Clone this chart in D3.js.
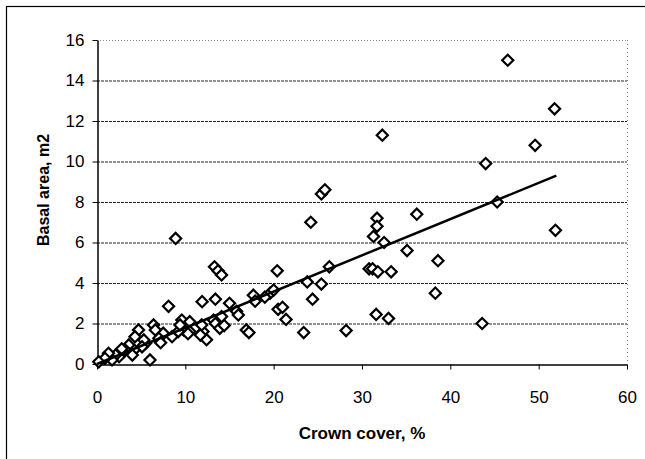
<!DOCTYPE html>
<html>
<head>
<meta charset="utf-8">
<script src="https://cdn.jsdelivr.net/npm/d3@7"></script>
<style>
  html, body { margin: 0; padding: 0; background: #fff; }
  svg { display: block; }
  text { font-family: "Liberation Sans", Arial, sans-serif; fill: #000; }
</style>
</head>
<body>
<svg id="chart" width="645" height="459"></svg>
<script>
// Crown cover (%) vs basal area (m2) for each sample plot
const crownCover = [
  46.5, 51.8, 32.3, 49.6, 44.0, 45.3, 25.4, 25.8, 24.2, 31.7,
  31.7, 31.3, 36.2, 32.5, 51.9, 8.9, 35.1, 38.6, 13.3, 13.7,
  14.1, 20.4, 26.3, 30.8, 31.2, 31.8, 33.3, 23.8, 25.4, 24.4,
  38.3, 43.6, 31.6, 33.0, 28.2, 23.4, 21.4, 20.5, 21.0, 19.6,
  20.0, 19.0, 17.7, 17.9, 16.9, 17.2, 15.8, 15.0, 13.4, 11.9,
  8.1, 16.0, 14.1, 13.2, 13.4, 13.9, 14.4, 12.0, 11.85, 12.4,
  11.7, 9.6, 10.5, 9.8, 10.5, 10.3, 9.2, 9.4, 8.5, 7.5,
  7.0, 7.2, 6.4, 6.6, 6.0, 5.5, 5.3, 5.1, 4.7, 4.3,
  4.2, 4.0, 3.6, 3.2, 3.0, 2.6, 2.5, 2.1, 1.7, 1.3,
  0.9, 0.2, 2.8
];
const basalArea = [
  15.0, 12.6, 11.3, 10.8, 9.9, 8.0, 8.4, 8.6, 7.0, 7.2,
  6.8, 6.3, 7.4, 6.0, 6.6, 6.2, 5.6, 5.1, 4.8, 4.6,
  4.4, 4.6, 4.8, 4.7, 4.7, 4.55, 4.55, 4.05, 3.95, 3.2,
  3.5, 2.0, 2.45, 2.25, 1.65, 1.55, 2.2, 2.7, 2.8, 3.5,
  3.65, 3.3, 3.4, 3.1, 1.68, 1.55, 2.6, 3.0, 3.2, 3.08,
  2.85, 2.42, 2.34, 2.17, 2.0, 1.76, 1.9, 1.6, 1.93, 1.2,
  1.43, 2.17, 2.09, 1.68, 1.6, 1.5, 1.6, 1.93, 1.35, 1.52,
  1.27, 1.05, 1.93, 1.68, 0.2, 1.02, 1.19, 0.85, 1.68, 1.35,
  0.69, 0.44, 0.94, 0.69, 0.6, 0.53, 0.36, 0.44, 0.2, 0.53,
  0.28, 0.11, 0.75
];

// Linear trend line end points
const trendX = [0, 52];
const trendY = [0, 9.3];

const xTicks = [0, 10, 20, 30, 40, 50, 60];
const yTicks = [0, 2, 4, 6, 8, 10, 12, 14, 16];

const xTitle = "Crown cover, %";
const yTitle = "Basal area, m2";

const svg = d3.select("#chart");
const plot = { left: 97, right: 627, top: 40, bottom: 364 };

const x = d3.scaleLinear().domain([0, 60]).range([plot.left, plot.right]);
const y = d3.scaleLinear().domain([0, 16]).range([plot.bottom, plot.top]);

// outer chart frame
svg.append("rect")
  .attr("x", 6.5).attr("y", 6.5)
  .attr("width", 700).attr("height", 500)
  .attr("fill", "none").attr("stroke", "#000").attr("stroke-width", 1.2);

// horizontal gridlines
svg.append("g")
  .selectAll("line")
  .data(yTicks.filter(d => d > 0))
  .join("line")
  .attr("x1", plot.left).attr("x2", plot.right)
  .attr("y1", d => y(d) + 0.5).attr("y2", d => y(d) + 0.5)
  .attr("stroke", d => d === 16 ? "#888" : "#222")
  .attr("stroke-width", 1)
  .attr("stroke-dasharray", d => d === 16 ? "1,2" : "3,1");

// right edge of plot area
svg.append("line")
  .attr("x1", plot.right + 0.5).attr("x2", plot.right + 0.5)
  .attr("y1", plot.top).attr("y2", plot.bottom)
  .attr("stroke", "#777").attr("stroke-dasharray", "1,3");

// axes
const xAxis = d3.axisBottom(x).tickValues(xTicks).tickSize(5).tickSizeOuter(0);
const yAxis = d3.axisLeft(y).tickValues(yTicks).tickSize(5).tickSizeOuter(0);

const gx = svg.append("g")
  .attr("transform", `translate(0,${plot.bottom + 0.5})`)
  .call(xAxis);
gx.select(".domain").attr("stroke", "#000").attr("stroke-width", 1.5);
gx.selectAll(".tick line").attr("stroke", "#000");
gx.selectAll(".tick text")
  .attr("y", 26).attr("dy", "0.71em")
  .style("font-size", "17px")
  .style("font-family", "'Liberation Sans', Arial, sans-serif");

const gy = svg.append("g")
  .attr("transform", `translate(${plot.left + 0.5},0)`)
  .call(yAxis);
gy.select(".domain").attr("stroke", "#000").attr("stroke-width", 1.5);
gy.selectAll(".tick line").attr("stroke", "#000");
gy.selectAll(".tick text")
  .attr("x", -13)
  .style("font-size", "17px")
  .style("font-family", "'Liberation Sans', Arial, sans-serif");

// data points: white diamonds with black outline
const pts = crownCover.map((c, i) => ({ c, b: basalArea[i] }));
const diamond = d3.symbol().type(d3.symbolSquare).size(62);
svg.append("g")
  .selectAll("path")
  .data(pts)
  .join("path")
  .attr("d", diamond)
  .attr("transform", d => `translate(${x(d.c)},${y(d.b)}) rotate(45)`)
  .attr("fill", "#fff")
  .attr("stroke", "#000")
  .attr("stroke-width", 2.2);

// trend line
svg.append("path")
  .datum(trendX.map((v, i) => [v, trendY[i]]))
  .attr("d", d3.line().x(d => x(d[0])).y(d => y(d[1])))
  .attr("fill", "none")
  .attr("stroke", "#000")
  .attr("stroke-width", 2.5);

// axis titles
svg.append("text")
  .attr("x", (plot.left + plot.right) / 2)
  .attr("y", 439)
  .attr("text-anchor", "middle")
  .style("font-size", "17px")
  .style("font-weight", "bold")
  .text(xTitle);

svg.append("text")
  .attr("transform", `translate(49,190) rotate(-90)`)
  .attr("text-anchor", "middle")
  .style("font-size", "16px")
  .style("font-weight", "bold")
  .text(yTitle);
</script>
</body>
</html>
